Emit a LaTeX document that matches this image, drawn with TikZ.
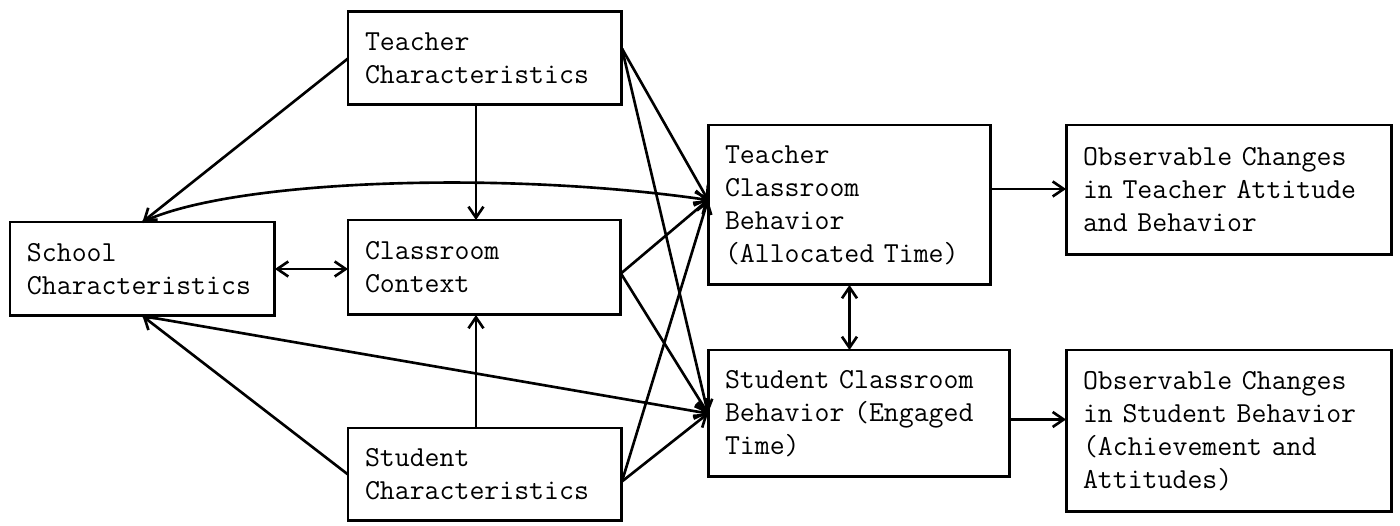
\documentclass[tikz,border=0pt]{standalone}
\usetikzlibrary{arrows.meta, calc}

\begin{document}
\begin{tikzpicture}[
    x=0.02cm, y=-0.02cm,
    font=\ttfamily\fontsize{16.5}{18.8}\selectfont,
    >={Straight Barb[length=0.22cm, width=0.3cm]},
    line width=1.7pt,
    % Node Styles
    box/.style={rectangle, draw, anchor=north west, align=left, inner xsep=0.34cm, inner ysep=0pt, outer sep=0pt},
    link/.style={->, line width=1.5pt},
    twoway/.style={<->, line width=1.5pt}
]
\useasboundingbox (0,0) rectangle (1400,526);

% =========================================================
% INPUT CHARACTERISTICS
% =========================================================
\node[box, text width=4.62cm, minimum height=1.88cm] (school) at (10,222) {School\\Characteristics};
\node[box, text width=4.80cm, minimum height=1.86cm] (tchar) at (348,12) {Teacher\\Characteristics};
\node[box, text width=4.78cm, minimum height=1.90cm] (ctx) at (348,220) {Classroom\\Context};
\node[box, text width=4.80cm, minimum height=1.86cm] (schar) at (348,428) {Student\\Characteristics};

% =========================================================
% CLASSROOM BEHAVIOR
% =========================================================
\node[box, text width=4.98cm, minimum height=3.20cm] (tcb) at (708,125) {Teacher\\Classroom\\Behavior\\(Allocated Time)};
\node[box, text width=5.36cm, minimum height=2.54cm] (scb) at (708,350) {Student Classroom\\Behavior (Engaged\\Time)};

% =========================================================
% OBSERVABLE CHANGES
% =========================================================
\node[box, text width=5.84cm, minimum height=2.60cm] (tobs) at (1066,125) {Observable Changes\\in Teacher Attitude\\and Behavior};
\node[box, text width=5.84cm, minimum height=3.24cm] (sobs) at (1066,350) {Observable Changes\\in Student Behavior\\(Achievement and\\Attitudes)};

% Connector end points
\coordinate (tc-down) at ($(tchar.south)+(-9,0)$);
\coordinate (sc-up) at ($(schar.north)+(-9,0)$);
\coordinate (tc-out) at ($(tchar.east)+(0,-10)$);
\coordinate (cc-out) at ($(ctx.east)+(0,6)$);
\coordinate (sc-out) at ($(schar.east)+(0,7)$);
\coordinate (tcb-in) at ($(tcb.west)+(0,-5)$);
\coordinate (tcb-out) at ($(tcb.east)+(0,-16)$);
\coordinate (scb-out) at ($(scb.east)+(0,6)$);

% Left part
\draw[link] (tchar.west) -- (school.north);
\draw[link] (schar.west) -- (school.south);
\draw[link] (tc-down) -- (tc-down |- ctx.north);
\draw[link] (sc-up) -- (sc-up |- ctx.south);
\draw[twoway] (school.east) -- (school.east -| ctx.west);
\draw[link] (school.north) .. controls (230,180) and (500,170) .. (tcb-in);
\draw[link] (school.south) -- (scb.west);

% Into both behavior boxes
\foreach \src in {tc-out, cc-out, sc-out} {
    \draw[link] (\src) -- (tcb-in);
    \draw[link] (\src) -- (scb.west);
}

% Right part
\draw[twoway] (tcb.south) -- (tcb.south |- scb.north);
\draw[link] (tcb-out) -- (tcb-out -| tobs.west);
\draw[link] (scb-out) -- (scb-out -| sobs.west);

\end{tikzpicture}
\end{document}
